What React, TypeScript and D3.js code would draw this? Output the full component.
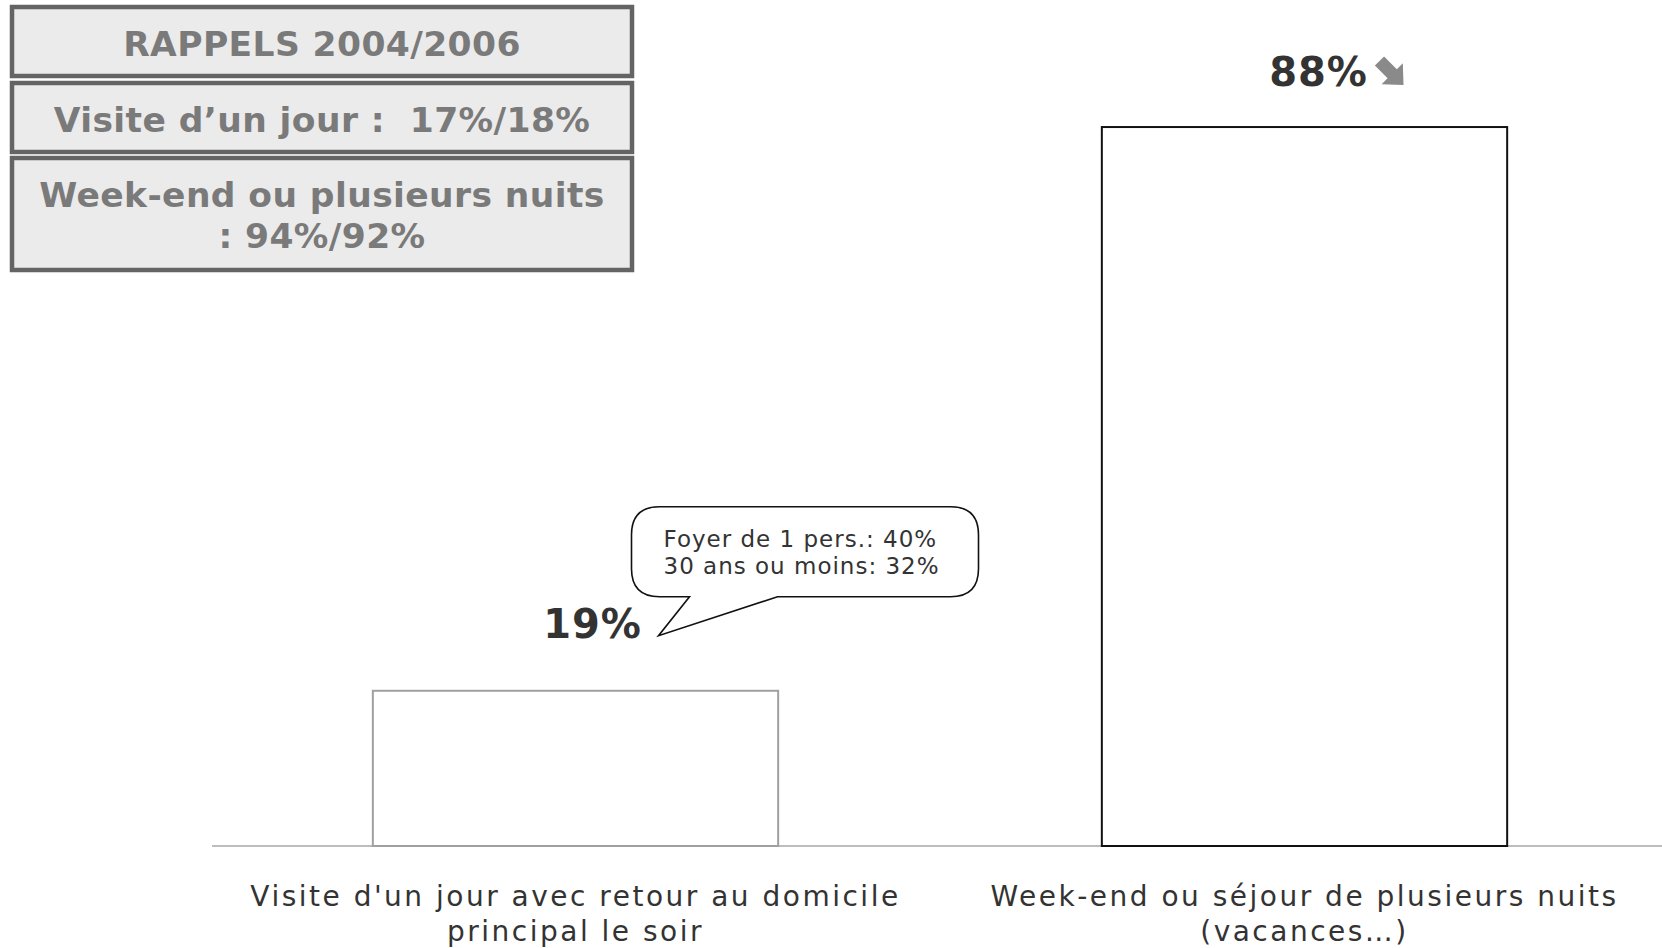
import React from 'react';
import * as d3 from 'd3';

const categories = ['jour', 'sejour'];
const categoryLines = [
  ["Visite d'un jour avec retour au domicile", 'principal le soir'],
  ['Week-end ou séjour de plusieurs nuits', '(vacances…)'],
];
const values = [19, 88];
const valueLabels = ['19%', '88%'];
const reminderLines = [
  ['RAPPELS 2004/2006'],
  ['Visite d’un jour :  17%/18%'],
  ['Week-end ou plusieurs nuits', ': 94%/92%'],
];
const calloutLines = ['Foyer de 1 pers.: 40%', '30 ans ou moins: 32%'];

const W = 1662;
const H = 948;

export default function App() {
  const x = d3.scaleBand().domain(categories).range([211, 1669]).paddingInner(0.444).paddingOuter(0.222);
  const y = d3.scaleLinear().domain([0, 100]).range([846, 29]);
  const bw = x.bandwidth();

  // callout attached to first bar
  const c0 = x(categories[0])! + bw / 2;
  const top0 = y(values[0]);
  const cx1 = c0 + 56, cx2 = c0 + 403, cy1 = top0 - 184, cy2 = top0 - 94, r = 28;
  const tipX = c0 + 83, tipY = top0 - 55;
  const callout = d3.path();
  callout.moveTo(cx1 + r, cy1);
  callout.lineTo(cx2 - r, cy1);
  callout.quadraticCurveTo(cx2, cy1, cx2, cy1 + r);
  callout.lineTo(cx2, cy2 - r);
  callout.quadraticCurveTo(cx2, cy2, cx2 - r, cy2);
  callout.lineTo(c0 + 202, cy2);
  callout.lineTo(tipX, tipY);
  callout.lineTo(c0 + 114, cy2);
  callout.lineTo(cx1 + r, cy2);
  callout.quadraticCurveTo(cx1, cy2, cx1, cy2 - r);
  callout.lineTo(cx1, cy1 + r);
  callout.quadraticCurveTo(cx1, cy1, cx1 + r, cy1);
  callout.closePath();

  const boxTops = [7, 83, 158];
  const boxHeights = [69, 69, 112];

  const c1 = x(categories[1])! + bw / 2;

  return (
    <svg width={W} height={H} style={{ position: 'absolute', left: 0, top: 0, background: '#fff' }}>
      {/* reminder boxes */}
      {reminderLines.map((lines, i) => (
        <g key={'b' + i}>
          <rect x={12} y={boxTops[i]} width={620} height={boxHeights[i]} fill="#ebebeb" stroke="#646464" strokeWidth={4.5} />
          {lines.map((t, j) => (
            <text
              key={j}
              x={322}
              y={boxTops[i] + (lines.length === 1 ? 49 : 49 + j * 41)}
              textAnchor="middle"
              fontFamily="DejaVu Sans"
              fontWeight="bold"
              fontSize={34.5}
              letterSpacing={0.4}
              fill="#7a7a7a"
              style={{ whiteSpace: 'pre' }}
            >
              {t}
            </text>
          ))}
        </g>
      ))}

      {/* axis line */}
      <line x1={212} x2={W} y1={y(0)} y2={y(0)} stroke="#bdbdbd" strokeWidth={2} />

      {/* bars */}
      {values.map((v, i) => (
        <rect
          key={'r' + i}
          x={x(categories[i])}
          y={y(v)}
          width={bw}
          height={y(0) - y(v)}
          fill="#fff"
          stroke={i === 0 ? '#a0a0a0' : '#111'}
          strokeWidth={2}
        />
      ))}

      {/* value labels */}
      <text x={c0 + 17} y={top0 - 53} textAnchor="middle" fontFamily="DejaVu Sans" fontWeight="bold" fontSize={40} letterSpacing={1} fill="#333">
        {valueLabels[0]}
      </text>
      <text x={c1 + 14} y={y(values[1]) - 41} textAnchor="middle" fontFamily="DejaVu Sans" fontWeight="bold" fontSize={40} letterSpacing={1} fill="#333">
        {valueLabels[1]}
      </text>
      <g transform={`translate(${c1 + 87},${y(values[1]) - 54}) rotate(45)`}>
        <path d="M-17,-6.5 H1 V-15 L17,0 L1,15 V6.5 H-17 Z" fill="#8a8a8a" />
      </g>

      {/* callout */}
      <path d={callout.toString()} fill="#fff" stroke="#111" strokeWidth={1.6} />
      {calloutLines.map((t, j) => (
        <text key={'c' + j} x={cx1 + 32} y={cy1 + 40 + j * 27} fontFamily="DejaVu Sans" fontSize={23} letterSpacing={1} fill="#333">
          {t}
        </text>
      ))}

      {/* category labels */}
      {categoryLines.map((lines, i) => (
        <text key={'k' + i} textAnchor="middle" fontFamily="DejaVu Sans" fontSize={28} fill="#333" letterSpacing={2.5}>
          {lines.map((t, j) => (
            <tspan key={j} x={x(categories[i])! + bw / 2} y={906 + j * 35}>
              {t}
            </tspan>
          ))}
        </text>
      ))}
    </svg>
  );
}
